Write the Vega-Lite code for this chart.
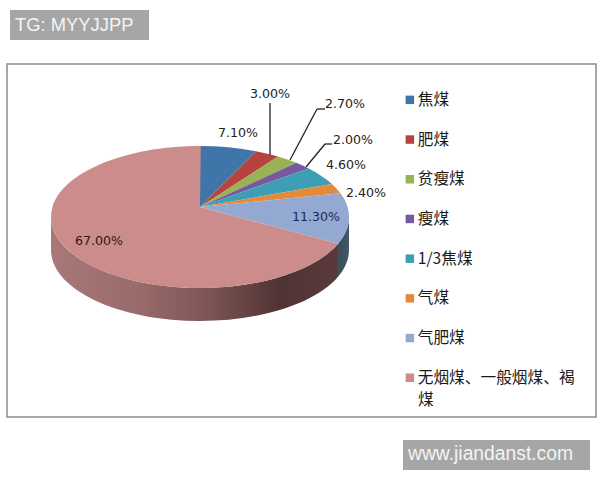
{"$schema":"https://vega.github.io/schema/vega-lite/v6.json","autosize":{"type":"fit","contains":"padding"},"width":600,"height":480,"padding":0,"background":"#ffffff","config":{"view":{"stroke":null},"axis":{"disable":true}},
"layer":[
{"data":{"values":[{"part":"frame"}]},"mark":{"type":"rect","fill":null,"stroke":"#8c8c8c","strokeWidth":1.5},"encoding":{"x":{"datum":7,"type":"quantitative","scale":{"domain":[0,600]}},"x2":{"datum":596},"y":{"datum":64,"type":"quantitative","scale":{"domain":[0,480],"reverse":true}},"y2":{"datum":417}}},
{"data":{"values":[{"part":"tag"}]},"mark":{"type":"rect","fill":"#a6a6a6"},"encoding":{"x":{"datum":10,"type":"quantitative","scale":{"domain":[0,600]}},"x2":{"datum":149},"y":{"datum":10,"type":"quantitative","scale":{"domain":[0,480],"reverse":true}},"y2":{"datum":40}}},
{"data":{"values":[{"part":"site"}]},"mark":{"type":"rect","fill":"#a6a6a6"},"encoding":{"x":{"datum":403,"type":"quantitative","scale":{"domain":[0,600]}},"x2":{"datum":590},"y":{"datum":440,"type":"quantitative","scale":{"domain":[0,480],"reverse":true}},"y2":{"datum":470}}},
{"data":{"values":[{"t":"TG: MYYJJPP"}]},"mark":{"type":"text","align":"left","baseline":"middle","font":"Liberation Sans","fontSize":18.4,"color":"#f4f4f4"},"encoding":{"text":{"field":"t"},"x":{"datum":15,"type":"quantitative","scale":{"domain":[0,600]}},"y":{"datum":25,"type":"quantitative","scale":{"domain":[0,480],"reverse":true}}}},
{"data":{"values":[{"t":"www.jiandanst.com"}]},"mark":{"type":"text","align":"left","baseline":"middle","font":"Liberation Sans","fontSize":19.3,"color":"#f4f4f4"},"encoding":{"text":{"field":"t"},"x":{"datum":408,"type":"quantitative","scale":{"domain":[0,600]}},"y":{"datum":454,"type":"quantitative","scale":{"domain":[0,480],"reverse":true}}}},
{"data":{"values":[{"t":"煤"}]},"mark":{"type":"text","align":"left","baseline":"middle","font":"Noto Sans CJK SC","fontSize":15.7,"color":"#1a1a1a"},"encoding":{"text":{"field":"t"},"x":{"datum":418,"type":"quantitative","scale":{"domain":[0,600]}},"y":{"datum":400,"type":"quantitative","scale":{"domain":[0,480],"reverse":true}}}},
{"data":{"values":[{"slice":"焦煤","share":0.071},{"slice":"肥煤","share":0.03},{"slice":"贫瘦煤","share":0.027},{"slice":"瘦煤","share":0.02},{"slice":"1/3焦煤","share":0.046},{"slice":"气煤","share":0.024},{"slice":"气肥煤","share":0.113},{"slice":"无烟煤、一般烟煤、褐煤","share":0.67}]},
"transform":[{"window":[{"op":"sum","field":"share","as":"stop"}],"ignorePeers":true},{"calculate":"datum.stop-datum.share","as":"begin"},{"calculate":"2*PI*datum.begin","as":"a0"},{"calculate":"2*PI*datum.stop","as":"a1"},{"calculate":"(-0.2817*cos(datum.a0)+sqrt(pow(0.2817*cos(datum.a0),2)+3.9206))/2","as":"k0"},{"calculate":"(-0.2817*cos(datum.a1)+sqrt(pow(0.2817*cos(datum.a1),2)+3.9206))/2","as":"k1"},{"calculate":"round(14900*datum.k0*sin(datum.a0))/100","as":"x0"},{"calculate":"round(-7100*datum.k0*cos(datum.a0))/100","as":"y0"},{"calculate":"round(14900*datum.k1*sin(datum.a1))/100","as":"x1"},{"calculate":"round(-7100*datum.k1*cos(datum.a1))/100","as":"y1"},{"calculate":"'M0,0L'+datum.x0+','+datum.y0+'A149,71 0 '+(datum.share>0.5?1:0)+' 1 '+datum.x1+','+datum.y1+'Z'","as":"wedge"},{"calculate":"datum.begin<=0.25?149:datum.x0","as":"wx0"},{"calculate":"datum.begin<=0.25?10:datum.y0","as":"wy0"},{"calculate":"datum.stop>=0.75?-149:datum.x1","as":"wx1"},{"calculate":"datum.stop>=0.75?10:datum.y1","as":"wy1"},{"calculate":"'M'+datum.wx0+','+datum.wy0+'A149,71 0 0 1 '+datum.wx1+','+datum.wy1+'L'+datum.wx1+','+(datum.wy1+33)+'A149,71 0 0 0 '+datum.wx0+','+(datum.wy0+33)+'Z'","as":"wall"}],
"layer":[
{"transform":[{"filter":"datum.slice=='无烟煤、一般烟煤、褐煤'"}],"mark":{"type":"point","filled":true,"size":4,"opacity":1,"color":{"gradient":"linear","x1":0,"x2":1,"y1":0,"y2":0,"stops":[{"offset":0,"color":"#a97878"},{"offset":0.3,"color":"#9a6b6b"},{"offset":0.55,"color":"#7d5555"},{"offset":0.8,"color":"#4f3333"},{"offset":1,"color":"#5a3a3a"}]}},"encoding":{"shape":{"field":"wall","type":"nominal","scale":null,"legend":null},"x":{"datum":200,"type":"quantitative","scale":{"domain":[0,600]}},"y":{"datum":207,"type":"quantitative","scale":{"domain":[0,480],"reverse":true}}}},
{"transform":[{"filter":"datum.slice=='气肥煤'"}],"mark":{"type":"point","filled":true,"size":4,"opacity":1,"color":{"gradient":"linear","x1":0,"x2":1,"y1":0,"y2":0,"stops":[{"offset":0,"color":"#3a4a58"},{"offset":1,"color":"#43586c"}]}},"encoding":{"shape":{"field":"wall","type":"nominal","scale":null,"legend":null},"x":{"datum":200,"type":"quantitative","scale":{"domain":[0,600]}},"y":{"datum":207,"type":"quantitative","scale":{"domain":[0,480],"reverse":true}}}},
{"mark":{"type":"point","filled":true,"size":4,"opacity":1},"encoding":{"shape":{"field":"wedge","type":"nominal","scale":null,"legend":null},"x":{"datum":200,"type":"quantitative","scale":{"domain":[0,600]}},"y":{"datum":207,"type":"quantitative","scale":{"domain":[0,480],"reverse":true}},"color":{"field":"slice","type":"nominal","sort":null,"scale":{"domain":["焦煤","肥煤","贫瘦煤","瘦煤","1/3焦煤","气煤","气肥煤","无烟煤、一般烟煤、褐煤"],"range":["#3f75a8","#b5443f","#99b254","#76599f","#3c9fb6","#e38a3c","#93a9d2","#cd8c8c"]},"legend":{"orient":"none","legendX":402,"legendY":92,"title":null,"symbolType":"square","symbolSize":72,"symbolStrokeWidth":0,"labelFont":"Noto Sans CJK SC","labelFontSize":15.7,"labelColor":"#1a1a1a","labelLimit":220,"labelOffset":0,"rowPadding":22.7,"padding":0,"labelExpr":"datum.label=='无烟煤、一般烟煤、褐煤'?'无烟煤、一般烟煤、褐':datum.label"}}}},
{"transform":[{"filter":"datum.slice=='肥煤'"}],"mark":{"type":"rule","stroke":"#222222","strokeWidth":1.3},"encoding":{"x":{"datum":270,"type":"quantitative","scale":{"domain":[0,600]}},"y":{"datum":103,"type":"quantitative","scale":{"domain":[0,480],"reverse":true}},"x2":{"datum":270},"y2":{"datum":155}}},
{"transform":[{"filter":"datum.slice=='贫瘦煤'"}],"mark":{"type":"rule","stroke":"#222222","strokeWidth":1.3},"encoding":{"x":{"datum":325,"type":"quantitative","scale":{"domain":[0,600]}},"y":{"datum":109,"type":"quantitative","scale":{"domain":[0,480],"reverse":true}},"x2":{"datum":317},"y2":{"datum":109}}},
{"transform":[{"filter":"datum.slice=='贫瘦煤'"}],"mark":{"type":"rule","stroke":"#222222","strokeWidth":1.3},"encoding":{"x":{"datum":317,"type":"quantitative","scale":{"domain":[0,600]}},"y":{"datum":109,"type":"quantitative","scale":{"domain":[0,480],"reverse":true}},"x2":{"datum":290},"y2":{"datum":160}}},
{"transform":[{"filter":"datum.slice=='瘦煤'"}],"mark":{"type":"rule","stroke":"#222222","strokeWidth":1.3},"encoding":{"x":{"datum":332,"type":"quantitative","scale":{"domain":[0,600]}},"y":{"datum":144,"type":"quantitative","scale":{"domain":[0,480],"reverse":true}},"x2":{"datum":325},"y2":{"datum":144}}},
{"transform":[{"filter":"datum.slice=='瘦煤'"}],"mark":{"type":"rule","stroke":"#222222","strokeWidth":1.3},"encoding":{"x":{"datum":325,"type":"quantitative","scale":{"domain":[0,600]}},"y":{"datum":144,"type":"quantitative","scale":{"domain":[0,480],"reverse":true}},"x2":{"datum":306},"y2":{"datum":167}}},
{"transform":[{"filter":"datum.slice=='焦煤'"}],"mark":{"type":"text","font":"DejaVu Sans","fontSize":12.6,"color":"#222222"},"encoding":{"text":{"field":"share","format":".2%"},"x":{"datum":238,"type":"quantitative","scale":{"domain":[0,600]}},"y":{"datum":133,"type":"quantitative","scale":{"domain":[0,480],"reverse":true}}}},
{"transform":[{"filter":"datum.slice=='肥煤'"}],"mark":{"type":"text","font":"DejaVu Sans","fontSize":12.6,"color":"#222222"},"encoding":{"text":{"field":"share","format":".2%"},"x":{"datum":270,"type":"quantitative","scale":{"domain":[0,600]}},"y":{"datum":94,"type":"quantitative","scale":{"domain":[0,480],"reverse":true}}}},
{"transform":[{"filter":"datum.slice=='贫瘦煤'"}],"mark":{"type":"text","font":"DejaVu Sans","fontSize":12.6,"color":"#222222"},"encoding":{"text":{"field":"share","format":".2%"},"x":{"datum":345,"type":"quantitative","scale":{"domain":[0,600]}},"y":{"datum":104,"type":"quantitative","scale":{"domain":[0,480],"reverse":true}}}},
{"transform":[{"filter":"datum.slice=='瘦煤'"}],"mark":{"type":"text","font":"DejaVu Sans","fontSize":12.6,"color":"#222222"},"encoding":{"text":{"field":"share","format":".2%"},"x":{"datum":353,"type":"quantitative","scale":{"domain":[0,600]}},"y":{"datum":140,"type":"quantitative","scale":{"domain":[0,480],"reverse":true}}}},
{"transform":[{"filter":"datum.slice=='1/3焦煤'"}],"mark":{"type":"text","font":"DejaVu Sans","fontSize":12.6,"color":"#222222"},"encoding":{"text":{"field":"share","format":".2%"},"x":{"datum":346,"type":"quantitative","scale":{"domain":[0,600]}},"y":{"datum":165,"type":"quantitative","scale":{"domain":[0,480],"reverse":true}}}},
{"transform":[{"filter":"datum.slice=='气煤'"}],"mark":{"type":"text","font":"DejaVu Sans","fontSize":12.6,"color":"#222222"},"encoding":{"text":{"field":"share","format":".2%"},"x":{"datum":366,"type":"quantitative","scale":{"domain":[0,600]}},"y":{"datum":193,"type":"quantitative","scale":{"domain":[0,480],"reverse":true}}}},
{"transform":[{"filter":"datum.slice=='气肥煤'"}],"mark":{"type":"text","font":"DejaVu Sans","fontSize":12.6,"color":"#1a2a55"},"encoding":{"text":{"field":"share","format":".2%"},"x":{"datum":316,"type":"quantitative","scale":{"domain":[0,600]}},"y":{"datum":217,"type":"quantitative","scale":{"domain":[0,480],"reverse":true}}}},
{"transform":[{"filter":"datum.slice=='无烟煤、一般烟煤、褐煤'"}],"mark":{"type":"text","font":"DejaVu Sans","fontSize":12.6,"color":"#2e1414"},"encoding":{"text":{"field":"share","format":".2%"},"x":{"datum":99,"type":"quantitative","scale":{"domain":[0,600]}},"y":{"datum":241,"type":"quantitative","scale":{"domain":[0,480],"reverse":true}}}}
]}]}
